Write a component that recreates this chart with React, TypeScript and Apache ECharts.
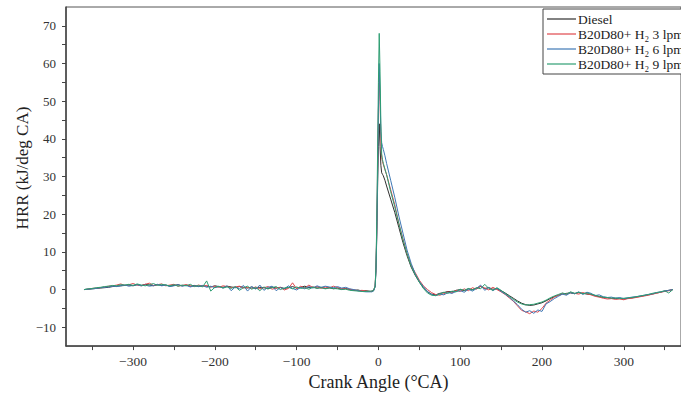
import React, { useEffect, useRef } from 'react';
import * as echarts from 'echarts';

const anglesPre = [-360,-355,-350,-345,-340,-335,-330,-325,-320,-315,-310,-305,-300,-295,-290,-285,-280,-275,-270,-265,-260,-255,-250,-245,-240,-235,-230,-225,-220,-215,-210,-205,-200,-195,-190,-185,-180,-175,-170,-165,-160,-155,-150,-145,-140,-135,-130,-125,-120,-115,-110,-105,-100,-95,-90,-85,-80,-75,-70,-65,-60,-55,-50,-45,-40,-35,-30,-25,-20,-15,-10];
const anglesPeak = [-8,-6,-4,-3,-2,-1,0,1,2,3,4,5,6,8];
const anglesPost = [10,15,20,25,30,35,40,45,50,55,60,65,70,75,80,85,90,95,100,105,110,115,120,125,130,135,140,145,150,155,160,165,170,175,180,185,190,195,200,205,210,215,220,225,230,235,240,245,250,255,260,265,270,275,280,285,290,295,300,305,310,315,320,325,330,335,340,345,350,355,360];
const crankAngle = [...anglesPre, ...anglesPeak, ...anglesPost];

const dieselPre = [0,0.1,0.2,0.3,0.4,0.5,0.6,0.8,0.9,1.0,
1.1,1.2,1.0,1.3,1.1,1.4,1.2,1.0,1.3,1.1,
1.2,0.9,1.1,1.3,1.0,1.2,0.9,1.1,0.8,1.0,
0.9,0.7,1.0,0.8,0.6,0.9,0.7,0.5,0.8,0.6,
0.4,0.7,0.3,0.6,0.5,0.2,0.7,0.4,0.6,0.3,
0.5,0.8,0.4,0.6,0.9,0.5,0.7,0.4,0.6,0.3,
0.5,0.2,0.4,0.1,0.3,0.0,-0.2,-0.1,-0.4,-0.3,
-0.5];
const dieselPeak = [-0.4,-0.2,0.8,5,14,27,38,44,38,33,31,30.6,30.2,29];
const dieselPost = [27.5,24,20.5,16.5,12.5,9,6,3.8,2,0.5,
-0.6,-1.2,-1.4,-1.0,-0.8,-0.5,-0.6,-0.2,0.0,-0.3,
0.2,0.0,0.4,0.8,0.3,0.5,0.1,0.2,-0.3,-0.9,
-1.6,-2.3,-3.0,-3.6,-4.0,-4.2,-4.1,-3.8,-3.5,-3.0,
-2.4,-1.9,-1.5,-1.2,-1.0,-0.9,-1.1,-0.8,-1.0,-1.2,
-1.3,-1.6,-1.9,-2.1,-2.2,-2.3,-2.4,-2.3,-2.5,-2.3,
-2.2,-2.0,-1.8,-1.6,-1.4,-1.2,-0.9,-0.7,-0.4,-0.2,
0];

const h3Pre = [0,0.1,0.3,0.4,0.5,0.7,0.9,1.0,1.2,1.5,
1.1,1.3,1.6,1.2,1.0,1.4,1.7,1.1,1.3,1.5,
1.0,1.2,1.4,0.9,1.1,1.3,1.0,0.8,1.2,0.9,
1.1,0.7,0.9,0.6,1.0,0.8,0.5,0.7,0.9,0.4,
0.6,0.3,0.7,0.2,0.5,0.8,0.1,0.4,0.6,-0.1,
0.3,1.8,0.2,0.9,0.4,1.2,0.5,0.8,0.3,0.7,
0.4,0.9,0.5,0.3,0.2,0.1,-0.1,-0.3,-0.2,-0.4,
-0.5];
const h3Peak = [-0.5,-0.3,0.9,6,16,32,48,57,50,40,35,34,33.2,31.8];
const h3Post = [30.5,26.5,22.5,17.5,13.5,9.5,6.5,4.5,2.5,1.0,
0.0,-0.8,-1.3,-1.5,-1.1,-0.6,-0.9,-0.2,-0.5,0.2,
-0.3,0.5,0.1,0.9,0.4,-0.1,0.6,0.0,-0.6,-1.3,
-2.2,-3.1,-4.3,-5.5,-5.9,-6.4,-5.7,-6.0,-5.0,-3.6,
-2.8,-2.0,-1.5,-1.0,-1.3,-0.7,-1.0,-1.2,-0.8,-1.1,
-1.4,-1.8,-2.0,-2.3,-2.5,-2.4,-2.6,-2.5,-2.7,-2.4,
-2.3,-2.1,-1.9,-1.7,-1.5,-1.2,-1.0,-0.7,-0.5,-0.3,
0];

const h6Pre = [0,0.1,0.2,0.3,0.5,0.6,0.7,0.9,0.8,1.0,
1.2,0.9,1.1,1.3,1.0,1.2,0.9,1.1,1.4,1.0,
1.2,0.8,1.0,1.3,0.9,1.1,0.7,1.0,0.8,1.1,
0.6,0.9,0.5,0.8,0.4,1.0,-0.3,0.7,0.2,1.1,
-0.4,0.8,0.1,1.2,-0.2,0.6,0.9,-0.3,0.5,0.2,
1.0,0.3,-0.1,0.6,0.2,0.8,0.4,1.0,0.6,0.9,
0.7,0.5,0.8,0.4,0.6,0.2,0.0,-0.3,-0.5,-0.6,
-0.6];
const h6Peak = [-0.6,-0.4,0.7,5,15,30,47,60,52,42,39,38,37.2,35.5];
const h6Post = [33.5,29,24.5,19.5,15,10.5,7,4.2,2.2,0.8,
-0.5,-1.3,-1.6,-1.2,-1.4,-0.8,-1.0,-0.5,-0.3,-0.7,
0.1,-0.4,0.3,1.2,-0.2,0.6,-0.3,0.4,-0.5,-1.2,
-2.0,-3.0,-4.0,-5.2,-6.0,-5.6,-6.3,-5.4,-5.8,-3.8,
-3.2,-2.4,-1.8,-1.2,-1.5,-0.8,-1.1,-0.6,-1.3,-0.7,
-1.0,-1.6,-1.4,-1.9,-2.1,-2.0,-2.3,-2.1,-2.4,-2.2,
-2.0,-1.9,-1.7,-1.5,-1.3,-1.1,-0.8,-0.6,-0.4,-0.2,
0];

const h9Pre = [0,0.2,0.3,0.5,0.6,0.8,0.9,1.1,1.0,1.3,
1.2,1.4,1.1,1.5,1.2,1.0,1.3,1.6,1.1,1.4,
1.2,1.0,1.3,0.9,1.2,1.0,1.4,0.8,1.1,0.7,
2.3,-0.4,0.6,0.9,0.4,0.7,0.3,0.8,-0.2,0.5,
0.9,0.1,0.6,-0.3,0.7,0.2,0.5,0.8,0.0,0.4,
0.6,0.2,0.7,0.3,0.5,0.1,0.6,0.3,0.5,0.2,
0.4,0.3,0.2,0.0,0.1,-0.2,-0.3,-0.4,-0.5,-0.5,
-0.4];
const h9Peak = [-0.4,-0.3,1.0,6,18,36,55,68,58,44,36,34.5,33.5,32];
const h9Post = [30.5,26,22,17.5,13.2,9.5,6.2,4.0,2.0,0.3,
-0.9,-1.5,-1.6,-1.2,-0.7,-1.0,-0.4,-0.6,0.1,-0.2,
0.3,-0.1,0.5,0.2,1.4,0.3,-0.2,0.5,-0.2,-1.0,
-1.8,-2.6,-3.3,-3.8,-4.1,-4.0,-3.9,-3.6,-3.3,-2.8,
-2.2,-1.7,-1.3,-0.9,-1.2,-0.6,-1.0,-0.7,-1.1,-0.9,
-1.2,-1.5,-1.8,-2.0,-2.1,-2.3,-2.2,-2.4,-2.3,-2.2,
-2.1,-1.9,-1.7,-1.5,-1.3,-1.0,-0.8,-0.6,-0.3,-0.9,
0];

const seriesNames = ['Diesel', 'B20D80+ H₂ 3 lpm', 'B20D80+ H₂ 6 lpm', 'B20D80+ H₂ 9 lpm'];
const seriesColors = ['#2f2f2f', '#e0474c', '#3f78b5', '#2e9e72'];
const seriesValues = [
  [...dieselPre, ...dieselPeak, ...dieselPost],
  [...h3Pre, ...h3Peak, ...h3Post],
  [...h6Pre, ...h6Peak, ...h6Post],
  [...h9Pre, ...h9Peak, ...h9Post],
];

const xLabelValues = [-300, -200, -100, 0, 100, 200, 300];
const xTickValues = [-350, -300, -250, -200, -150, -100, -50, 0, 50, 100, 150, 200, 250, 300, 350];
const yLabelValues = [-10, 0, 10, 20, 30, 40, 50, 60, 70];
const yTickValues = [-10, -5, 0, 5, 10, 15, 20, 25, 30, 35, 40, 45, 50, 55, 60, 65, 70];

const FONT = '"Liberation Serif", "Times New Roman", serif';

export default function App() {
  const ref = useRef<HTMLDivElement>(null);
  useEffect(() => {
    if (!ref.current) return;
    const chart = echarts.init(ref.current, null, { renderer: 'svg' });
    chart.setOption({
      animation: false,
      backgroundColor: '#ffffff',
      grid: {
        left: 66, top: 7, right: -3, bottom: 48,
        show: true, borderColor: '#555', borderWidth: 1, containLabel: false,
      },
      legend: {
        orient: 'vertical',
        left: 543, top: 9,
        data: seriesNames,
        icon: 'rect',
        itemWidth: 29, itemHeight: 1.2, itemGap: 1,
        padding: [3, 40, 3, 4],
        borderColor: '#444', borderWidth: 1,
        backgroundColor: '#fff',
        textStyle: { fontFamily: FONT, fontSize: 13.5, lineHeight: 14, color: '#222', padding: [0, 0, 0, -3] },
      },
      xAxis: {
        type: 'value', min: -382, max: 370,
        name: 'Crank Angle (°CA)', nameLocation: 'middle', nameGap: 26,
        nameTextStyle: { fontFamily: FONT, fontSize: 18, color: '#222', padding: [0, 0, 0, 10] },
        axisLine: { show: true, onZero: false, lineStyle: { color: '#444', width: 1.5 } },
        axisTick: { show: true, length: 4, customValues: xTickValues, lineStyle: { color: '#444' } },
        axisLabel: { customValues: xLabelValues, margin: 8, fontFamily: FONT, fontSize: 13.5, color: '#333',
          formatter: (v: number) => (v < 0 ? '\u2212' + Math.abs(v) : String(v)) },
        splitLine: { show: false },
      },
      yAxis: {
        type: 'value', min: -15, max: 75,
        axisLine: { show: true, onZero: false, lineStyle: { color: '#444', width: 1.5 } },
        axisTick: { show: true, length: 4, customValues: yTickValues, lineStyle: { color: '#444' } },
        axisLabel: { customValues: yLabelValues, margin: 10, fontFamily: FONT, fontSize: 13, color: '#333',
          formatter: (v: number) => (v < 0 ? '\u2212' + Math.abs(v) : String(v)) },
        splitLine: { show: false },
      },
      graphic: [{
        type: 'text', x: 22, y: 168, rotation: Math.PI / 2,
        style: { text: 'HRR (kJ/deg CA)', fontFamily: FONT, fontSize: 17, fill: '#222', align: 'center', verticalAlign: 'middle' },
      }],
      series: seriesNames.map((name, i) => ({
        name,
        type: 'line',
        symbol: 'none',
        data: crankAngle.map((a, j) => [a, seriesValues[i][j]]),
        lineStyle: { color: seriesColors[i], width: 1 },
        itemStyle: { color: seriesColors[i] },
        z: 2 + i,
      })),
    });
    return () => chart.dispose();
  }, []);
  return <div ref={ref} style={{ position: 'fixed', left: 0, top: 0, width: 681, height: 396 }} />;
}
